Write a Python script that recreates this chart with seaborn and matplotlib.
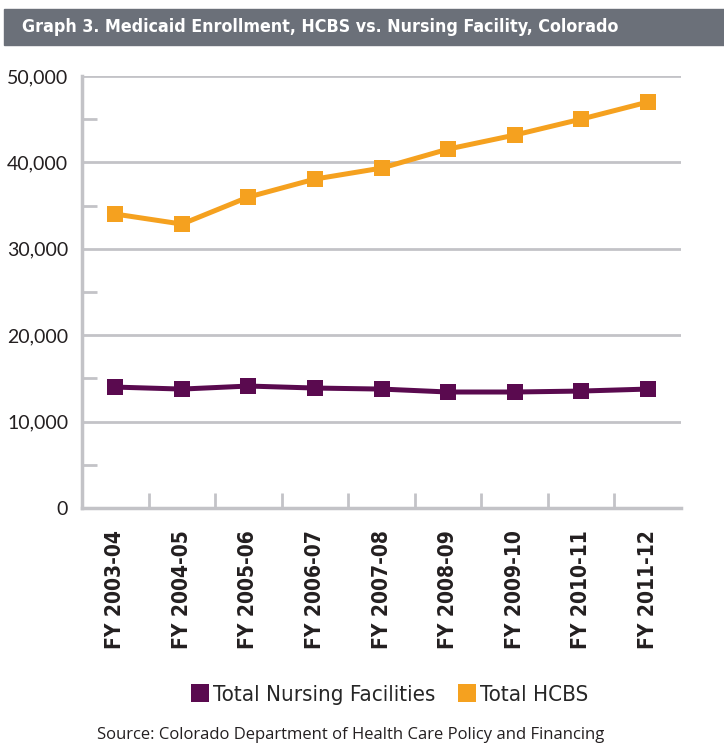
import matplotlib
matplotlib.use("Agg")
import matplotlib.pyplot as plt
import seaborn as sns
import pandas as pd
import numpy as np
from matplotlib.lines import Line2D
from matplotlib.ticker import MultipleLocator, FixedLocator, FuncFormatter

years = ["FY 2003-04", "FY 2004-05", "FY 2005-06", "FY 2006-07", "FY 2007-08",
         "FY 2008-09", "FY 2009-10", "FY 2010-11", "FY 2011-12"]
nursing = [14000, 13770, 14120, 13890, 13770, 13430, 13430, 13540, 13770]
hcbs = [34030, 32870, 36000, 38080, 39350, 41550, 43170, 45020, 46990]
series_names = ["Total Nursing Facilities", "Total HCBS"]
colors = ["#5a0a4f", "#f5a11f"]

df = pd.DataFrame({
    "year": years * 2,
    "x": list(range(len(years))) * 2,
    "value": nursing + hcbs,
    "series": [series_names[0]] * len(years) + [series_names[1]] * len(years),
})

sns.set_theme(style="white")
plt.rcParams['font.family'] = ['Open Sans', 'DejaVu Sans']

COND = dict(family="DejaVu Sans", stretch="condensed")

fig = plt.figure(figsize=(7.24, 7.46), dpi=100)
ax = fig.add_axes([0.1133, 0.319, 0.8273, 0.579])

sns.lineplot(data=df, x="x", y="value", hue="series", palette=colors,
             marker="s", markersize=12, markeredgewidth=0, linewidth=3.6,
             ax=ax, legend=False, sort=False)

grid_c = "#c3c3c7"
ax.set_xlim(-0.5, len(years) - 0.5)
ax.set_ylim(0, 50000)
ax.yaxis.set_major_locator(MultipleLocator(10000))
ax.yaxis.set_minor_locator(MultipleLocator(5000))
ax.yaxis.set_major_formatter(FuncFormatter(lambda v, p: f"{int(v):,}"))
ax.grid(axis="y", which="major", color=grid_c, linewidth=2)
ax.set_axisbelow(True)
ax.tick_params(axis="y", which="major", length=0, pad=10, labelsize=14, labelcolor="#231f20")
for lab in ax.get_yticklabels():
    lab.set_family("Lato")
ax.tick_params(axis="y", which="minor", direction="in", length=11, width=2, color=grid_c, left=True)
ax.set_xticks(range(len(years)))
ax.set_xticklabels(years, rotation=90, fontsize=15, fontweight="bold", color="#231f20", **COND)
ax.xaxis.set_minor_locator(FixedLocator(np.arange(0.5, len(years) - 0.5, 1)))
ax.tick_params(axis="x", which="major", length=0, pad=16)
ax.tick_params(axis="x", which="minor", direction="in", length=11, width=2, color=grid_c, bottom=True)
ax.set_xlabel("")
ax.set_ylabel("")
for s in ["top", "right"]:
    ax.spines[s].set_visible(False)
for s in ["left", "bottom"]:
    ax.spines[s].set_color(grid_c)
    ax.spines[s].set_linewidth(2.5)

# title banner
fig.patches.append(plt.Rectangle((0.005, 1 - 45 / 746), 0.995, 36 / 746,
                                 transform=fig.transFigure, color="#6b7079", zorder=0))
fig.text(0.030, 1 - 27 / 746, "Graph 3. Medicaid Enrollment, HCBS vs. Nursing Facility, Colorado",
         color="white", fontsize=12.8, fontweight="bold", va="center", ha="left", **COND)

handles = [Line2D([], [], marker="s", linestyle="none", markersize=12.5,
                  markerfacecolor=c, markeredgewidth=0) for c in colors]
fig.legend(handles, series_names, loc="center", bbox_to_anchor=(0.538, 1 - 695 / 746),
           ncol=2, frameon=False, handlelength=0.8, handletextpad=0.2, columnspacing=1.0,
           prop={"family": "DejaVu Sans", "stretch": "condensed", "size": 16})

fig.text(0.485, 1 - 735 / 746, "Source: Colorado Department of Health Care Policy and Financing",
         ha="center", va="center", fontsize=12, color="#231f20")

fig.savefig("out.png", dpi=100)
